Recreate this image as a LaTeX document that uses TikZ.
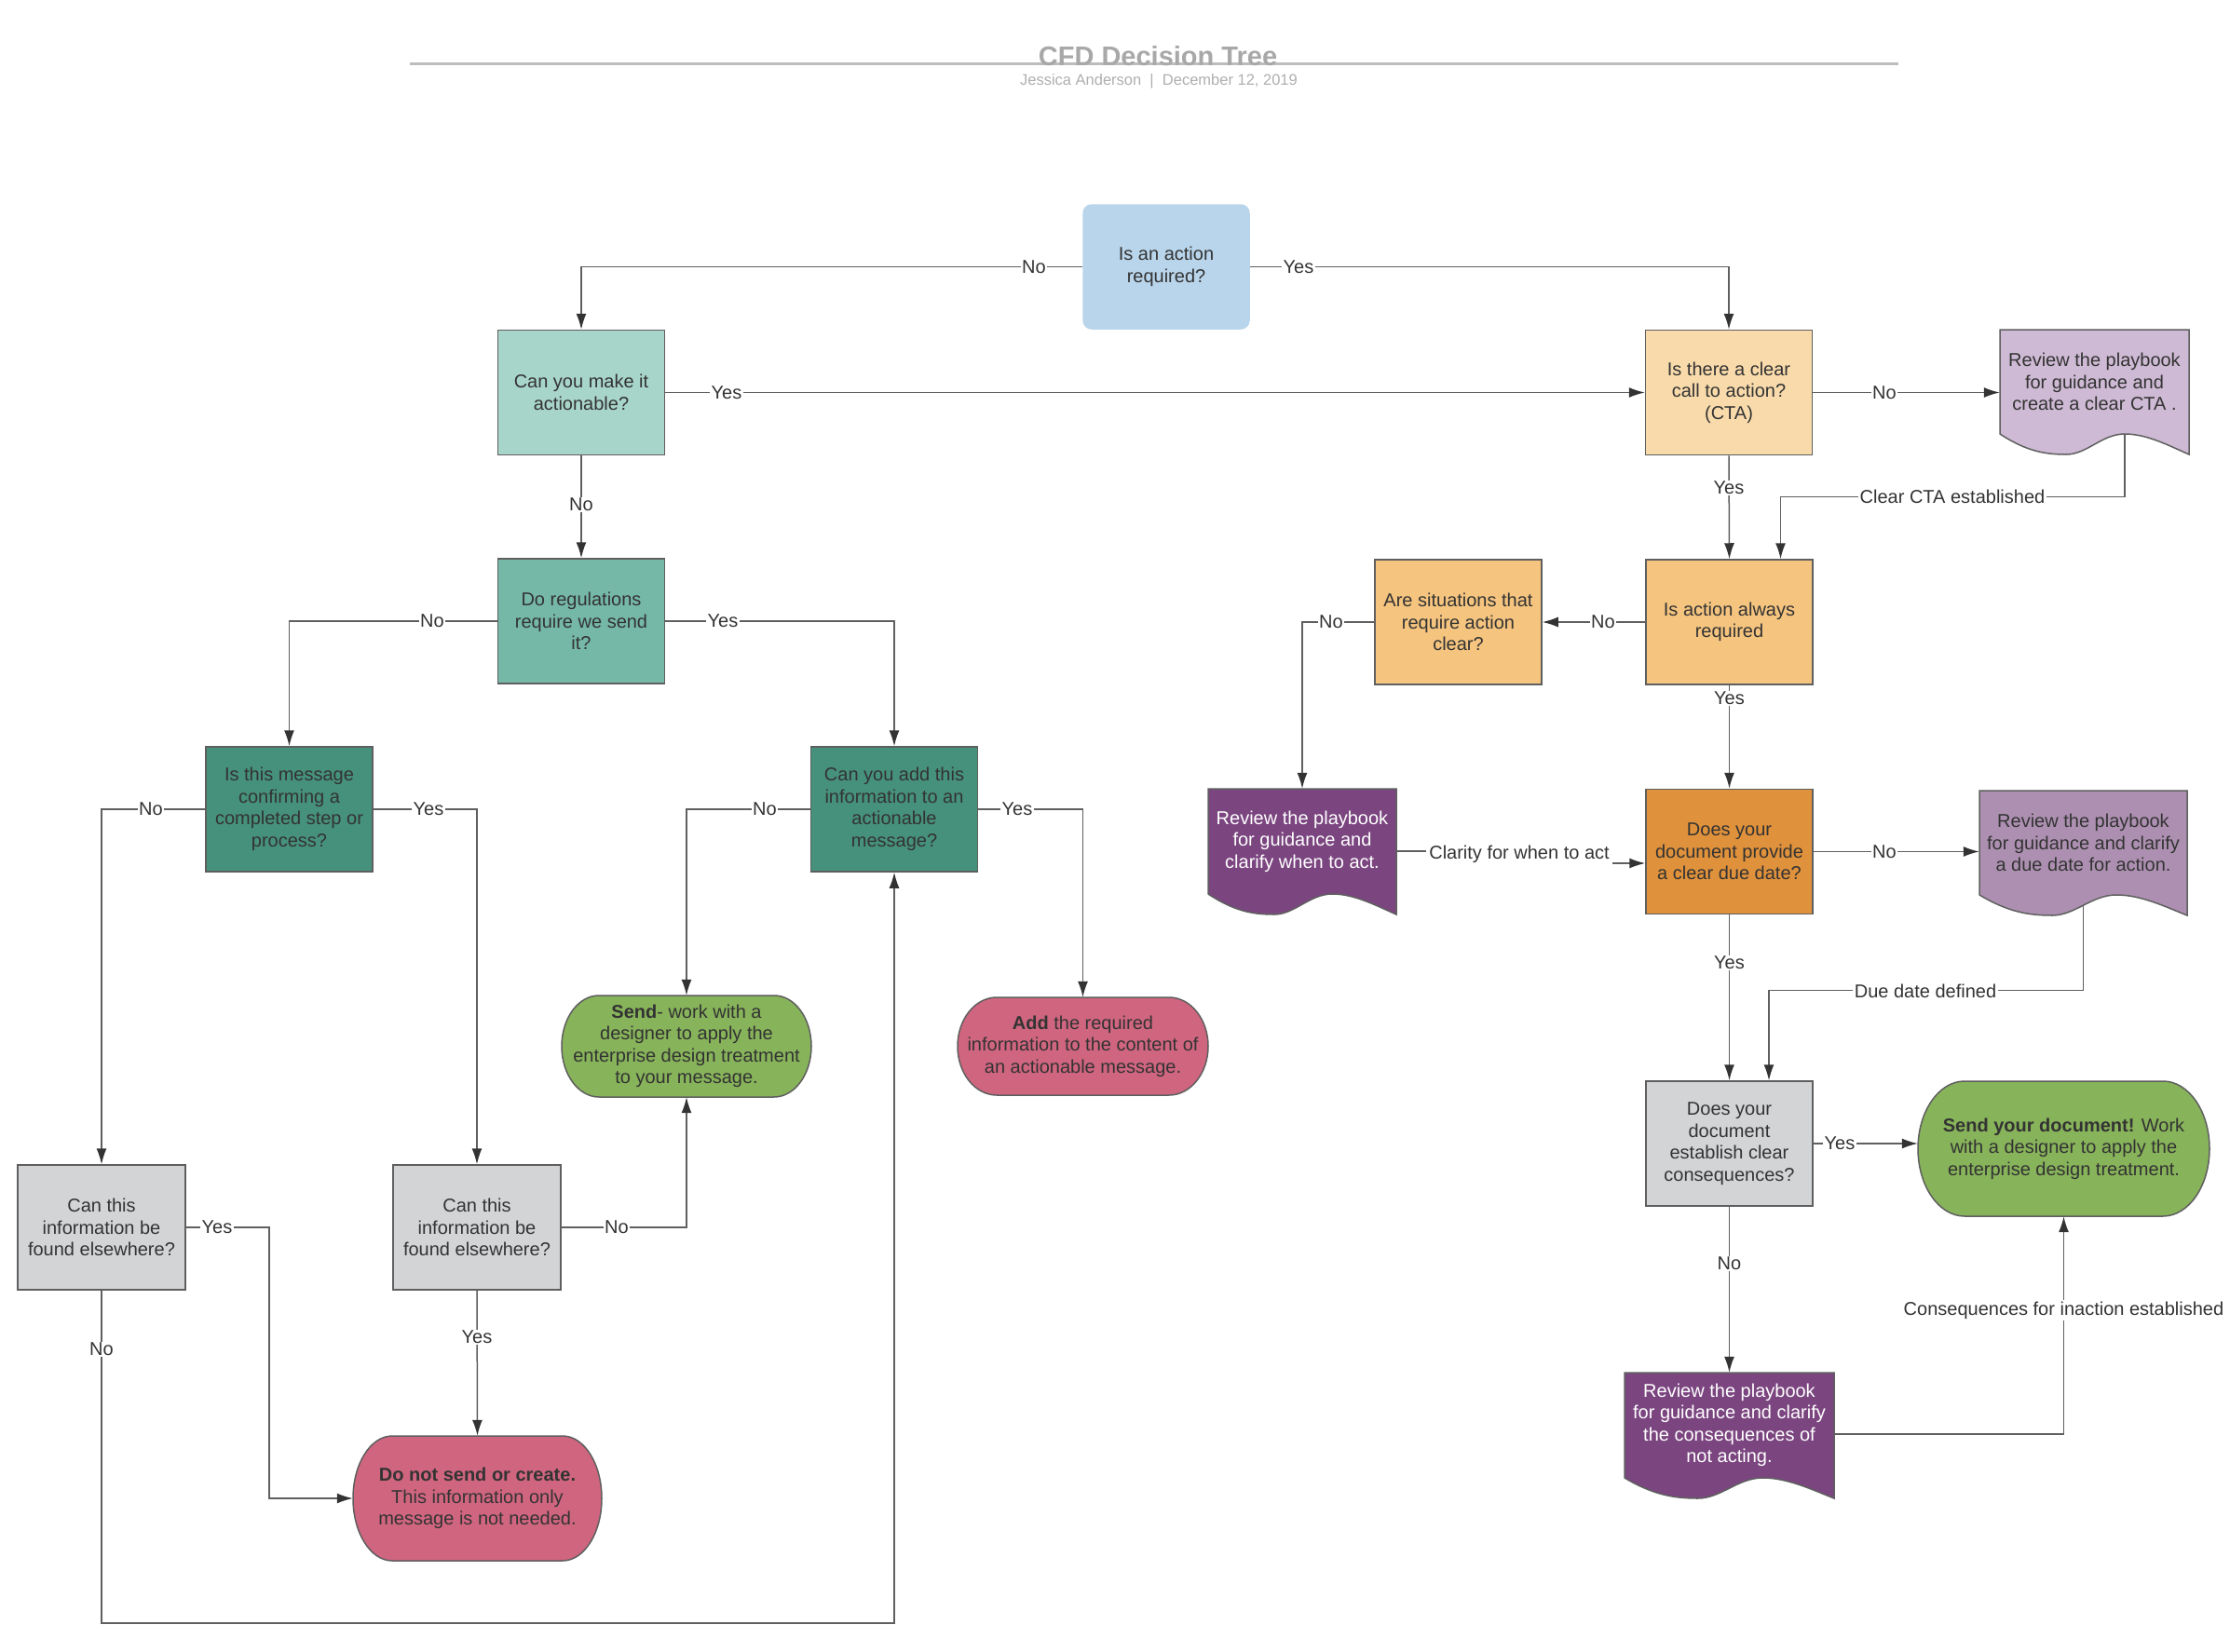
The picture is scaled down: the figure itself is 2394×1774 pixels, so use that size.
\documentclass[tikz,border=0pt]{standalone}
\usepackage{fontspec}
\setmainfont{Liberation Sans}
\usetikzlibrary{arrows.meta,calc}
\definecolor{txt}{HTML}{333333}
\definecolor{bord}{HTML}{5F5F5F}
\definecolor{lin}{HTML}{5F5F5F}
\definecolor{arr}{HTML}{333333}
\definecolor{cA}{HTML}{B9D5EB}
\definecolor{cB}{HTML}{A8D5CA}
\definecolor{cC}{HTML}{75B8A8}
\definecolor{cD}{HTML}{46917B}
\definecolor{cF}{HTML}{F9DBAB}
\definecolor{cH}{HTML}{F5C47F}
\definecolor{cK}{HTML}{E0913B}
\definecolor{cG}{HTML}{CEBAD4}
\definecolor{cJ}{HTML}{7B4580}
\definecolor{cL}{HTML}{AD90B1}
\definecolor{cM}{HTML}{D3D4D6}
\definecolor{cN}{HTML}{87B35A}
\definecolor{cR}{HTML}{D0657F}
\definecolor{titlec}{HTML}{A8A8A8}
\definecolor{subc}{HTML}{AFAFAF}
\definecolor{tline}{HTML}{BDBDBD}
\newcommand{\nodefont}{\fontsize{20}{23.5}\selectfont}
% document shape background: style, x1, y1, x2, y2, d
\newcommand{\docbg}[6]{%
  \pgfmathsetmacro\docw{#4-#2}%
  \path[#1] (#2,#3) -- (#4,#3) -- (#4,#5)
    .. controls ({#2+0.9*\docw},{#5-0.4*#6}) and ({#2+0.78*\docw},{#5-#6}) .. ({#2+0.66*\docw},{#5-#6})
    .. controls ({#2+0.54*\docw},{#5-#6}) and ({#2+0.46*\docw},#5) .. ({#2+0.35*\docw},#5)
    .. controls ({#2+0.24*\docw},#5) and ({#2+0.14*\docw},{#5-0.15*#6}) .. (#2,{#5-#6}) -- cycle;}
% terminator background: style, x1, y1, x2, y2, rx
\newcommand{\termbg}[6]{%
  \pgfmathsetmacro\termry{(#5-#3)/2}%
  \path[#1] ({#2+#6},#3) -- ({#4-#6},#3)
    arc[start angle=90,end angle=-90,x radius=#6pt,y radius=\termry pt]
    -- ({#2+#6},#5)
    arc[start angle=270,end angle=90,x radius=#6pt,y radius=\termry pt] -- cycle;}
\tikzset{
  base/.style={font=\nodefont, text=txt, align=center, inner sep=0pt},
  box/.style={base, draw=bord, line width=1.5pt, minimum width=179pt, minimum height=134pt},
  shapebg/.style={draw=bord, line width=1.5pt},
  conn/.style={draw=lin, line width=1.5pt, -{Latex[length=17pt,width=11pt,color=arr]}},
  lbl/.style={base, fill=white, inner sep=1.5pt}
}
\begin{document}
\begin{tikzpicture}[x=1pt,y=-1pt]
\useasboundingbox (0,0) rectangle (2394,1774);
\fill[white] (0,0) rectangle (2394,1774);

% title
\draw[line width=3pt, tline] (440,69) -- (2038,69);
\node[font=\bfseries\fontsize{29}{34}\selectfont, text=titlec, anchor=base, inner sep=0pt] (title) at (1243,71) {CFD Decision Tree};
\node[font=\fontsize{16.5}{20}\selectfont, text=subc, anchor=base, inner sep=0pt] (subtitle) at (1244,92) {Jessica Anderson\ \ |\ \ December 12, 2019};

% backgrounds of documents and terminators
\docbg{shapebg, fill=cG}{2147}{354}{2350}{488}{22}
\docbg{shapebg, fill=cJ}{1297}{847}{1499}{982}{22}
\docbg{shapebg, fill=cL}{2125}{849}{2348}{983}{22}
\docbg{shapebg, fill=cJ}{1744}{1474}{1969}{1609}{22}
\termbg{shapebg, fill=cN}{2059}{1161}{2372}{1306}{50}
\termbg{shapebg, fill=cR}{379}{1542}{646}{1676}{42}
\termbg{shapebg, fill=cN}{603}{1069}{871}{1178}{40}
\termbg{shapebg, fill=cR}{1028}{1071}{1297}{1176}{42}

% boxes
\node[box, fill=cA, draw=cA, rounded corners=9pt, minimum width=178pt, minimum height=133pt] (A) at (1252,286.5) {Is an action\\required?};
\node[box, fill=cB] (B) at (624,421.5) {Can you make it\\actionable?};
\node[box, fill=cC] (C) at (624,667) {Do regulations\\require we send\\it?};
\node[box, fill=cD] (D) at (310.5,869) {Is this message\\confirming a\\completed step or\\process?};
\node[box, fill=cD] (E) at (960,869) {Can you add this\\information to an\\actionable\\message?};
\node[box, fill=cF] (F) at (1856,421.5) {Is there a clear\\call to action?\\(CTA)};
\node[box, fill=cH] (H) at (1856.5,668) {Is action always\\required};
\node[box, fill=cH] (I) at (1565.5,668) {Are situations that\\require action\\clear?};
\node[box, fill=cK] (K) at (1856.5,914.5) {Does your\\document provide\\a clear due date?};
\node[box, fill=cM] (M) at (1856.5,1228) {Does your\\document\\establish clear\\consequences?};
\node[box, fill=cM, minimum width=180pt] (P) at (109,1318) {Can this\\information be\\found elsewhere?};
\node[box, fill=cM, minimum width=180pt] (Q) at (512,1318) {Can this\\information be\\found elsewhere?};

% document texts (upper part of each document)
\node[base, minimum width=203pt, minimum height=112pt] (G) at (2248.5,410) {Review the playbook\\for guidance and\\create a clear CTA .};
\node[base, text=white, minimum width=202pt, minimum height=113pt] (J) at (1398,903.5) {Review the playbook\\for guidance and\\clarify when to act.};
\node[base, minimum width=223pt, minimum height=112pt] (L) at (2236.5,905) {Review the playbook\\for guidance and clarify\\a due date for action.};
\node[base, text=white, minimum width=225pt, minimum height=113pt] (O) at (1856.5,1530.5) {Review the playbook\\for guidance and clarify\\the consequences of\\not acting.};

% terminator texts
\node[base, minimum width=313pt, minimum height=145pt] (N) at (2215.5,1233.5) {\textbf{Send your document!} Work\\with a designer to apply the\\enterprise design treatment.};
\node[base, minimum width=267pt, minimum height=134pt] (R) at (512.5,1609) {\textbf{Do not send or create.}\\This information only\\message is not needed.};
\node[base, minimum width=268pt, minimum height=109pt] (S) at (737,1123.5) {\textbf{Send}- work with a\\designer to apply the\\enterprise design treatment\\to your message.};
\node[base, minimum width=269pt, minimum height=105pt] (T) at (1162.5,1123.5) {\textbf{Add} the required\\information to the content of\\an actionable message.};

\coordinate (Gb) at ($(G.south west)!0.66!(G.south east)$);
\coordinate (Lb) at ($(L.south)+(0,11)$);

% connectors
\draw[conn] (A.west) -| (B.north);
\draw[conn] (A.east) -| (F.north);
\draw[conn] (B.east) -- (F.west);
\draw[conn] (B.south) -- (C.north);
\draw[conn] (F.east) -- (F.east -| G.west);
\draw[conn] (F.south) -- (H.north);
\draw[conn] (Gb) |- ($(H.north)+(55,-67)$) -- ($(H.north)+(55,0)$);
\draw[conn] (C.west) -| (D.north);
\draw[conn] (C.east) -| (E.north);
\draw[conn] (H.west) -- (I.east);
\draw[conn] (H.south) -- (K.north);
\draw[conn] (I.west) -| (J.north);
\draw[conn] (D.west) -| (P.north);
\draw[conn] (D.east) -| (Q.north);
\draw[conn] (E.west) -| (S.north);
\draw[conn] (E.east) -| (T.north);
\draw[conn] ($(J.east)+(0,10.5)$) -- ($(J.east)+(224,10.5)$) |- ($(K.west)+(0,12.5)$);
\draw[conn] (K.east) -- (K.east -| L.west);
\draw[conn] (K.south) -- (M.north);
\draw[conn] (Lb) |- ($(M.north)+(42.5,-97)$) -- ($(M.north)+(42.5,0)$);
\draw[conn] (M.east) -- (M.east -| N.west);
\draw[conn] (M.south) -- (O.north);
\draw[conn] ($(O.east)+(0,9.5)$) -| (N.south);
\draw[conn] (P.east) -- ++(89,0) |- (R.west);
\draw[conn] (P.south) -- ++(0,357) -| (E.south);
\draw[conn] (Q.south) -- (R.north);
\draw[conn] (Q.east) -| (S.south);

% labels
\node[lbl] (lA1) at (1110,286.5) {No};
\node[lbl] (lA2) at (1394,286.5) {Yes};
\node[lbl] (lB1) at (780,421.5) {Yes};
\node[lbl] (lB2) at (624,542) {No};
\node[lbl] (lF1) at (2023,421.5) {No};
\node[lbl] (lF2) at (1856,524) {Yes};
\node[lbl] (lG) at (2096,533) {Clear CTA established};
\node[lbl] (lC1) at (464,667) {No};
\node[lbl] (lC2) at (776,667) {Yes};
\node[lbl] (lH1) at (1721,668) {No};
\node[lbl] (lH2) at (1856.5,750) {Yes};
\node[lbl] (lI) at (1429,668) {No};
\node[lbl] (lD1) at (162,869) {No};
\node[lbl] (lD2) at (460,869) {Yes};
\node[lbl] (lE1) at (821,869) {No};
\node[lbl] (lE2) at (1092,869) {Yes};
\node[lbl, inner xsep=3pt] (lJ) at (1631,917) {Clarity for when to act};
\node[lbl] (lK1) at (2023,914.5) {No};
\node[lbl] (lK2) at (1856.5,1034) {Yes};
\node[lbl] (lL) at (2067,1064) {Due date defined};
\node[lbl] (lM1) at (1975,1228) {Yes};
\node[lbl] (lM2) at (1856.5,1357) {No};
\node[lbl] (lO) at (2215.5,1407) {Consequences for inaction established};
\node[lbl] (lP1) at (233,1318) {Yes};
\node[lbl] (lP2) at (109,1449) {No};
\node[lbl] (lQ1) at (512,1436) {Yes};
\node[lbl] (lQ2) at (662,1318) {No};
\end{tikzpicture}
\end{document}
